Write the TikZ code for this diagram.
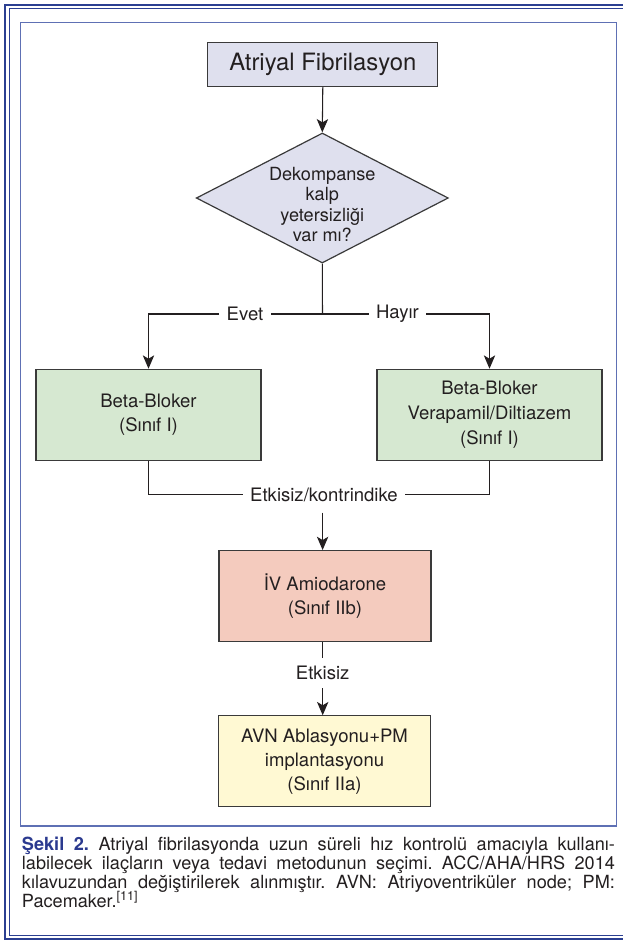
\documentclass[tikz,border=0pt]{standalone}
\usepackage{fontspec}
\setmainfont{TeX Gyre Heros}
\usetikzlibrary{shapes.geometric,arrows.meta}
\definecolor{ink}{HTML}{231F20}
\definecolor{edge}{HTML}{3A3A3A}
\definecolor{lav}{HTML}{DFE0EE}
\definecolor{grn}{HTML}{D6E8D1}
\definecolor{salm}{HTML}{F4CBBE}
\definecolor{yel}{HTML}{FFF9D3}
\definecolor{framedark}{HTML}{2B3F91}
\definecolor{framemid}{HTML}{5E70B4}
\definecolor{capblue}{HTML}{2B3A8F}
\tikzset{
  conn/.style={draw=ink, line width=0.8pt},
  arr/.style={conn, -{Stealth[length=10pt,width=8.5pt,inset=2.5pt]}},
  titlebox/.style={draw=edge, line width=0.9pt, fill=lav, minimum width=172.5pt, minimum height=33pt, inner sep=0pt, text=ink, font=\fontsize{17.9pt}{21pt}\selectfont},
  decision/.style={diamond, draw=edge, line width=0.9pt, fill=lav, minimum width=189pt, minimum height=97.5pt, inner sep=0pt},
  qtext/.style={align=center, text=ink, inner sep=0pt, font=\fontsize{13.6pt}{15.2pt}\selectfont},
  wbox/.style={draw=edge, line width=0.9pt, minimum width=168.75pt, minimum height=68.25pt, inner sep=0pt, align=center, text=ink, font=\fontsize{13.9pt}{18.5pt}\selectfont},
  nbox/.style={draw=edge, line width=0.9pt, minimum width=159pt, minimum height=68pt, inner sep=0pt, align=center, text=ink, font=\fontsize{13.9pt}{18pt}\selectfont},
  lab/.style={fill=white, inner xsep=5.5pt, inner ysep=2pt, text=ink, font=\fontsize{13.9pt}{16pt}\selectfont},
  capline/.style={anchor=base west, inner sep=0pt, text=ink, font=\fontsize{13.6pt}{14.5pt}\selectfont\frenchspacing}
}
\begin{document}
\begin{tikzpicture}[x=0.75pt,y=-0.75pt]
\useasboundingbox (0,0) rectangle (623,943);
% outer double frame
\draw[framedark, line width=1.3pt] (623,4.8) -- (4.9,4.8) -- (4.9,939.3) -- (623,939.3);
\draw[framedark, line width=0.6pt] (623,8.5) -- (9.3,8.5) -- (9.3,935.2) -- (623,935.2);
% inner frame
\draw[framemid, line width=0.8pt] (20.7,22.7) rectangle (616.3,826);

% nodes
\node[titlebox] (af) at (322.8,64.2) {Atriyal Fibrilasyon};
\node[decision] (q) at (322.3,198) {};
\node[qtext] (qt) at (322.3,204.6) {Dekompanse\\kalp\\yetersizliği\\var mı?};
\node[wbox, fill=grn] (bl) at (148.5,414.8) {Beta-Bloker\\(Sınıf I)};
\node[wbox, fill=grn] (br) at (489.5,414.8) {Beta-Bloker\\Verapamil/Diltiazem\\(Sınıf I)};
\node[nbox, fill=salm] (am) at (325,596) {İV Amiodarone\\(Sınıf IIb)};
\node[nbox, fill=yel] (avn) at (324.5,761.2) {AVN Ablasyonu+PM\\implantasyonu\\(Sınıf IIa)};

% title to decision
\draw[arr] (af.south) -- (q.north);

% split
\coordinate (j) at (322.5,314);
\node[lab] (ev) at (245,314) {Evet};
\node[lab] (ha) at (397.5,314) {Hayır};
\draw[conn] (q.south) -- (j);
\draw[conn] (j) -- (ev.east);
\draw[conn] (j) -- (ha.west);
\draw[arr] (ev.west) -| (bl.north);
\draw[arr] (ha.east) -| (br.north);

% merge
\node[lab] (ek) at (324,494.7) {Etkisiz/kontrindike};
\draw[conn] (bl.south) |- (ek.west);
\draw[conn] (br.south) |- (ek.east);
\coordinate (ekb) at (322.6,512.7);
\draw[arr] (ekb) -- (am.north -| ekb);

% amiodarone to AVN
\node[lab, fill=none] (ez) at (322.7,673) {Etkisiz};
\coordinate (eza) at (322.7,658);
\coordinate (ezb) at (322.7,688);
\draw[conn] (am.south -| eza) -- (eza);
\draw[arr] (ezb) -- (avn.north -| ezb);

% caption
\node[capline] (c1) at (21.7,850) {\makebox[444.75pt][s]{{\bfseries\color{capblue}Şekil 2.} Atriyal fibrilasyonda uzun süreli hız kontrolü amacıyla kullanı-}};
\node[capline] (c2) at (21.7,869.2) {\makebox[444.75pt][s]{labilecek ilaçların veya tedavi metodunun seçimi. ACC/AHA/HRS 2014}};
\node[capline] (c3) at (21.7,888.5) {\makebox[444.75pt][s]{kılavuzundan değiştirilerek alınmıştır. AVN: Atriyoventriküler node; PM:}};
\node[capline] (c4) at (21.7,907.7) {Pacemaker.\textsuperscript{[11]}};
\end{tikzpicture}
\end{document}
